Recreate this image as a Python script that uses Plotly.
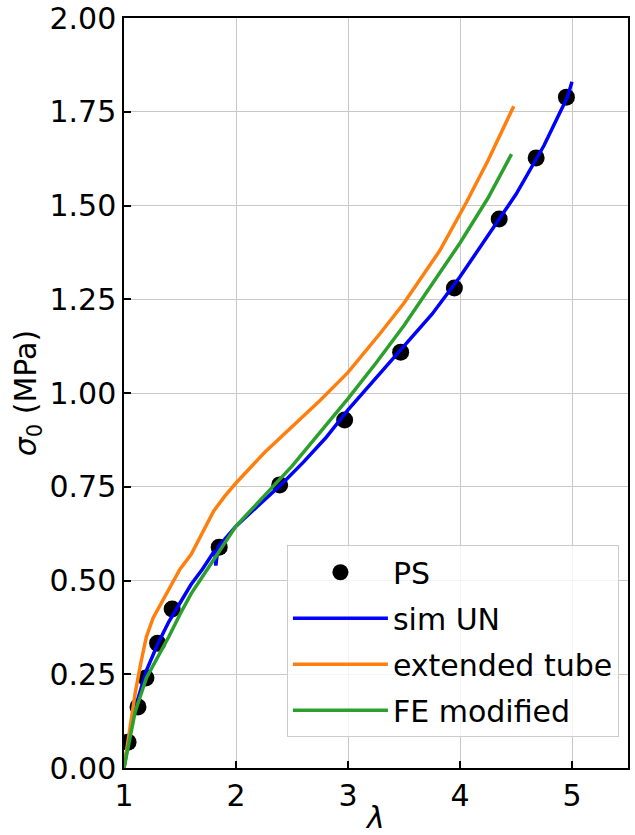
import plotly.graph_objects as go

# PS experimental points
ps_x = [1.036, 1.125, 1.196, 1.30, 1.43, 1.85, 2.39, 2.97, 3.47, 3.95, 4.35, 4.68, 4.95]
ps_y = [0.069, 0.163, 0.240, 0.333, 0.424, 0.589, 0.755, 0.928, 1.109, 1.280, 1.464, 1.627, 1.789]

# sim UN
sim_x = [1.0, 1.05, 1.1, 1.2, 1.3, 1.4, 1.5, 1.6, 1.7, 1.78, 1.81, 1.82, 1.84, 1.9, 2.0, 2.2, 2.4,
         2.6, 2.8, 3.0, 3.25, 3.5, 3.75, 4.0, 4.25, 4.5, 4.75, 4.9, 4.96, 5.0]
sim_y = [0.0, 0.09, 0.16, 0.26, 0.33, 0.39, 0.44, 0.49, 0.53, 0.565, 0.58, 0.54, 0.59, 0.61, 0.645, 0.70, 0.755,
         0.815, 0.88, 0.955, 1.04, 1.125, 1.21, 1.31, 1.42, 1.53, 1.66, 1.75, 1.79, 1.83]

# extended tube
ext_x = [1.0, 1.05, 1.1, 1.15, 1.2, 1.26, 1.37, 1.5, 1.6, 1.7, 1.8, 1.9, 2.0, 2.25, 2.5, 2.75, 3.0, 3.29,
         3.5, 3.82, 4.06, 4.25, 4.48]
ext_y = [0.0, 0.10, 0.20, 0.28, 0.35, 0.40, 0.46, 0.53, 0.57, 0.63, 0.685, 0.725, 0.76, 0.84, 0.91, 0.98,
         1.055, 1.16, 1.24, 1.38, 1.51, 1.62, 1.765]

# FE modified
fe_x = [1.0, 1.05, 1.1, 1.2, 1.3, 1.4, 1.5, 1.6, 1.7, 1.8, 1.9, 2.0, 2.25, 2.5, 2.75, 3.0, 3.25, 3.5,
        3.75, 4.0, 4.25, 4.46]
fe_y = [0.0, 0.08, 0.15, 0.24, 0.295, 0.35, 0.41, 0.465, 0.51, 0.555, 0.60, 0.645, 0.725, 0.805, 0.895,
        0.985, 1.08, 1.18, 1.29, 1.40, 1.52, 1.637]

x_ticks = [1, 2, 3, 4, 5]
y_ticks = [0.0, 0.25, 0.5, 0.75, 1.0, 1.25, 1.5, 1.75, 2.0]

FS = 30

fig = go.Figure()
fig.add_trace(go.Scatter(x=ps_x, y=ps_y, mode="markers", name="PS", legendgroup="a",
                         marker=dict(color="black", size=17)))
fig.add_trace(go.Scatter(x=sim_x, y=sim_y, mode="lines", name="sim UN", legendgroup="b",
                         line=dict(color="#0000ff", width=3.5)))
fig.add_trace(go.Scatter(x=ext_x, y=ext_y, mode="lines", name="extended tube", legendgroup="c",
                         line=dict(color="#ff7f0e", width=3.5)))
fig.add_trace(go.Scatter(x=fe_x, y=fe_y, mode="lines", name="FE modified", legendgroup="d",
                         line=dict(color="#2ca02c", width=3.5)))

axis_common = dict(showline=True, linecolor="black", linewidth=1.5, mirror=True,
                   showgrid=True, gridcolor="#c8c8c8", gridwidth=1,
                   ticks="inside", ticklen=7, tickwidth=1.5, tickcolor="black",
                   zeroline=False, automargin=False,
                   tickfont=dict(family="DejaVu Sans", size=FS, color="black"))

fig.update_layout(
    width=635, height=835,
    margin=dict(l=124, r=7, t=18, b=67),
    paper_bgcolor="white", plot_bgcolor="white",
    font=dict(family="DejaVu Sans", size=FS, color="black"),
    xaxis=dict(range=[1, 5.5], tickvals=x_ticks, ticktext=[str(v) for v in x_ticks],
               title=dict(text="<i>λ</i>", font=dict(size=FS), standoff=0), **axis_common),
    yaxis=dict(range=[0, 2.0], tickvals=y_ticks, ticktext=[f"{v:.2f}" for v in y_ticks],
               title=dict(text="<i>σ</i><sub>0</sub> (MPa)", font=dict(size=FS), standoff=4),
               **axis_common),
    legend=dict(x=0.982, y=0.041, xanchor="right", yanchor="bottom",
                bgcolor="rgba(255,255,255,0.8)", bordercolor="#cccccc", borderwidth=1,
                font=dict(size=FS), tracegroupgap=4, itemwidth=95),
    showlegend=True,
)

fig.write_html("out.html", post_script="document.body.style.margin='0';",
               config={"displayModeBar": False})
